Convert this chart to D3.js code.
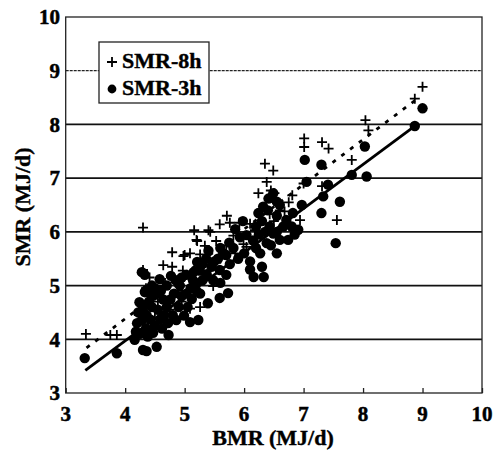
<!DOCTYPE html>
<html>
<head>
<meta charset="utf-8">
<script src="https://cdn.jsdelivr.net/npm/d3@7"></script>
<style>
  body { margin: 0; background: #fff; }
  svg { display: block; font-family: "Liberation Serif", "Times New Roman", serif; font-weight: bold; }
</style>
</head>
<body>
<div id="chart"></div>
<script>
// BMR vs SMR (MJ/d).
var xTicks = [3, 4, 5, 6, 7, 8, 9, 10];
var yTicks = [3, 4, 5, 6, 7, 8, 9, 10];
var solidGrid = [4, 5, 6, 7, 8];
var dottedGrid = [9];

// SMR-3h, [BMR, SMR]
var smr3h = [
    [3.32, 3.65], [3.86, 3.74], [4.16, 3.99], [4.30, 3.80], [4.36, 3.78], [4.53, 3.86], [4.73, 4.08],
    [4.28, 5.25], [4.33, 5.20], [4.36, 4.92], [5.09, 4.32], [5.23, 4.36], [5.39, 4.67], [5.59, 4.77],
    [5.73, 4.86], [6.16, 5.16], [6.33, 5.16], [6.30, 5.35], [6.55, 5.60], [6.24, 6.35], [6.41, 6.62],
    [6.55, 6.56], [6.74, 5.85], [6.91, 6.04], [6.97, 6.50], [7.02, 7.34], [7.05, 6.93], [7.30, 7.25],
    [7.33, 6.66], [7.30, 6.35], [7.41, 6.88], [7.61, 6.56], [7.54, 5.79], [7.81, 7.06], [8.03, 7.59],
    [8.06, 7.03], [8.87, 7.97], [9.00, 8.30],
    [4.20, 4.30], [4.25, 4.10], [4.22, 4.50], [4.30, 4.60], [4.36, 4.45], [4.42, 4.37], [4.47, 4.12],
    [4.50, 4.25], [4.55, 4.55], [4.59, 4.37], [4.64, 4.74], [4.60, 4.90], [4.70, 4.60], [4.76, 4.74],
    [4.80, 4.45], [4.86, 4.36], [4.90, 4.60], [4.99, 4.44], [4.95, 4.80], [5.03, 4.85], [5.05, 4.60],
    [5.10, 4.95], [5.14, 5.10], [5.20, 4.90], [5.26, 4.85], [5.30, 5.10], [5.37, 5.21], [5.25, 5.30],
    [5.03, 5.20], [4.92, 5.00], [4.85, 5.10], [4.77, 5.18], [4.70, 5.00], [4.58, 5.12], [4.50, 4.95],
    [4.47, 4.81], [4.40, 4.70], [4.24, 4.69], [4.30, 4.53], [4.18, 4.14], [4.38, 4.05], [4.62, 4.20],
    [4.72, 4.30], [4.45, 4.60], [4.52, 4.85], [4.33, 4.88], [4.45, 5.00], [4.28, 4.35], [4.35, 4.20],
    [4.66, 4.45], [4.82, 4.85], [5.12, 4.75], [4.40, 4.90], [4.95, 5.15], [5.18, 5.05],
    [5.48, 5.10], [5.59, 5.29], [5.76, 5.40], [5.82, 5.70], [5.56, 5.50], [5.36, 5.50], [5.21, 5.44],
    [5.45, 5.35], [5.65, 5.60], [5.70, 5.57], [5.75, 5.80], [5.60, 5.70], [5.40, 5.65], [5.50, 5.45],
    [5.30, 5.40], [5.15, 5.25], [5.60, 5.05], [5.70, 5.20], [5.90, 5.50], [5.93, 5.90], [6.04, 5.94],
    [6.00, 5.60], [6.10, 5.45], [6.15, 5.84], [6.27, 5.60], [6.38, 5.79], [6.49, 5.97], [6.60, 5.85],
    [6.66, 6.10], [6.43, 6.10], [6.55, 6.30], [6.71, 6.22], [6.82, 6.35], [6.32, 6.47], [6.49, 6.72],
    [6.20, 5.70], [6.25, 5.95], [6.35, 6.00], [6.45, 5.75], [6.30, 6.20], [6.55, 6.00], [6.60, 6.50],
    [6.80, 6.10], [6.85, 5.95], [6.40, 6.40], [6.20, 6.10], [5.98, 6.20], [5.85, 6.05], [6.10, 5.30]
];

// SMR-8h, [BMR, SMR]
var smr8h = [
    [3.34, 4.10], [3.75, 4.08], [3.86, 4.08], [4.30, 6.08], [4.30, 5.29], [4.41, 5.15], [4.64, 5.38],
    [4.79, 5.62], [4.79, 5.35], [4.64, 5.00], [4.84, 5.06], [4.98, 5.55], [4.97, 5.28], [5.09, 5.60],
    [5.16, 6.03], [5.21, 5.83], [5.34, 5.74], [5.40, 6.03], [5.26, 5.37], [5.09, 4.57], [5.26, 4.60],
    [5.48, 4.99], [5.59, 6.14], [5.71, 6.30], [5.76, 6.17], [5.82, 5.93], [5.92, 6.17], [5.99, 5.77],
    [6.18, 6.03], [6.24, 6.72], [6.35, 7.27], [6.38, 6.93], [6.49, 7.14], [6.45, 6.77], [6.51, 6.72],
    [6.43, 6.33], [6.54, 6.56], [6.68, 6.38], [6.81, 6.68], [6.94, 6.22], [7.00, 6.90], [7.01, 7.74],
    [7.01, 7.58], [7.31, 7.67], [7.42, 7.55], [7.31, 6.85], [7.56, 6.22], [7.81, 7.34], [8.04, 8.08],
    [8.09, 7.89], [8.87, 8.48], [9.00, 8.70],
    [5.26, 5.58], [5.53, 5.83], [5.43, 6.00], [5.20, 5.85], [5.00, 5.57], [4.67, 5.05], [4.90, 4.90],
    [5.15, 4.95], [5.30, 5.20], [4.55, 4.70], [4.50, 4.40], [4.40, 4.80], [4.75, 4.55], [4.95, 4.70],
    [5.60, 5.50], [5.70, 5.75], [6.04, 5.72], [6.10, 6.15], [6.30, 6.20], [6.60, 6.40], [6.75, 6.55],
    [6.35, 6.00], [4.23, 4.45], [4.35, 4.95], [5.85, 5.60], [6.20, 5.90], [6.50, 6.20]
];

// Regression lines: endpoints [BMR, SMR]
var fit3h = [[3.33, 3.42], [8.88, 7.98]];
var fit8h = [[3.35, 3.84], [8.95, 8.51]];

var legendItems = ['SMR-8h', 'SMR-3h'];

function drawChart() {
    var width = 496, height = 450;
    var left = 65.7, right = 482, top = 17, bottom = 393;

    var svg = d3.select('#chart')
        .append('svg')
        .attr('width', width)
        .attr('height', height);

    svg.append('rect').attr('width', width).attr('height', height).attr('fill', '#fff');

    var x = d3.scaleLinear().domain([3, 10]).range([left, right]);
    var y = d3.scaleLinear().domain([3, 10]).range([bottom, top]);

    // Gridlines.
    svg.selectAll('.grid')
        .data(solidGrid)
        .enter()
        .append('line')
        .attr('x1', left).attr('x2', right)
        .attr('y1', function(d) { return y(d); })
        .attr('y2', function(d) { return y(d); })
        .attr('stroke', '#111')
        .attr('stroke-width', 1.7);

    svg.selectAll('.grid-dot')
        .data(dottedGrid)
        .enter()
        .append('line')
        .attr('x1', left).attr('x2', right)
        .attr('y1', function(d) { return y(d); })
        .attr('y2', function(d) { return y(d); })
        .attr('stroke', '#222')
        .attr('stroke-width', 1.2)
        .attr('stroke-dasharray', '3,1');

    // Frame.
    svg.append('rect')
        .attr('x', left).attr('y', top)
        .attr('width', right - left).attr('height', bottom - top)
        .attr('fill', 'none')
        .attr('stroke', '#222')
        .attr('stroke-width', 1.3);

    // Axes: ticks pointing inward, labels drawn separately.
    var xAxis = d3.axisBottom(x).tickValues(xTicks).tickSizeInner(-5).tickSizeOuter(0).tickFormat('');
    svg.append('g')
        .attr('transform', 'translate(0,' + bottom + ')')
        .call(xAxis)
        .call(function(g) { g.select('.domain').remove(); })
        .selectAll('line').attr('stroke', '#222').attr('stroke-width', 1.3);

    svg.selectAll('.xlabel')
        .data(xTicks)
        .enter()
        .append('text')
        .attr('x', function(d) { return x(d); })
        .attr('y', 421)
        .attr('text-anchor', 'middle')
        .attr('stroke', '#000')
        .attr('stroke-width', 0.5)
        .style('font-size', '21px')
        .text(function(d) { return d; });

    svg.selectAll('.ylabel')
        .data(yTicks)
        .enter()
        .append('text')
        .attr('x', 60)
        .attr('y', function(d) { return y(d); })
        .attr('dy', '0.35em')
        .attr('text-anchor', 'end')
        .attr('stroke', '#000')
        .attr('stroke-width', 0.5)
        .style('font-size', '21px')
        .text(function(d) { return d; });

    // Axis titles.
    svg.append('text')
        .attr('x', 273).attr('y', 445)
        .attr('text-anchor', 'middle')
        .attr('stroke', '#000')
        .attr('stroke-width', 0.4)
        .style('font-size', '22px')
        .text('BMR (MJ/d)');

    svg.append('text')
        .attr('transform', 'translate(30,207) rotate(-90)')
        .attr('text-anchor', 'middle')
        .attr('stroke', '#000')
        .attr('stroke-width', 0.4)
        .style('font-size', '22px')
        .text('SMR (MJ/d)');

    var plus = 'M-5,0H5M0,-5V5';

    // Points.
    svg.append('g').selectAll('circle')
        .data(smr3h)
        .enter()
        .append('circle')
        .attr('cx', function(d) { return x(d[0]); })
        .attr('cy', function(d) { return y(d[1]); })
        .attr('r', 5.2)
        .attr('fill', '#000');

    svg.append('g').selectAll('path')
        .data(smr8h)
        .enter()
        .append('path')
        .attr('d', plus)
        .attr('transform', function(d) { return 'translate(' + x(d[0]) + ',' + y(d[1]) + ')'; })
        .attr('stroke', '#000')
        .attr('stroke-width', 1.8);

    // Regression lines.
    var line = d3.line()
        .x(function(d) { return x(d[0]); })
        .y(function(d) { return y(d[1]); });

    svg.append('path')
        .attr('d', line(fit3h))
        .attr('fill', 'none')
        .attr('stroke', '#000')
        .attr('stroke-width', 2.8);

    svg.append('path')
        .attr('d', line(fit8h))
        .attr('fill', 'none')
        .attr('stroke', '#000')
        .attr('stroke-width', 2.8)
        .attr('stroke-dasharray', '4,7');

    // Legend.
    var legend = svg.append('g');
    legend.append('rect')
        .attr('x', 99).attr('y', 42)
        .attr('width', 110).attr('height', 61)
        .attr('fill', '#fff')
        .attr('stroke', '#222')
        .attr('stroke-width', 1.3);

    legend.append('path')
        .attr('d', plus)
        .attr('transform', 'translate(112,62)')
        .attr('stroke', '#000')
        .attr('stroke-width', 1.8);

    legend.append('circle')
        .attr('cx', 112).attr('cy', 89)
        .attr('r', 4.4)
        .attr('fill', '#000');

    legend.selectAll('text')
        .data(legendItems)
        .enter()
        .append('text')
        .attr('x', 122)
        .attr('y', function(d, i) { return 68 + i * 27; })
        .attr('stroke', '#000')
        .attr('stroke-width', 0.4)
        .style('font-size', '22px')
        .text(function(d) { return d; });
}

drawChart();
</script>
</body>
</html>
